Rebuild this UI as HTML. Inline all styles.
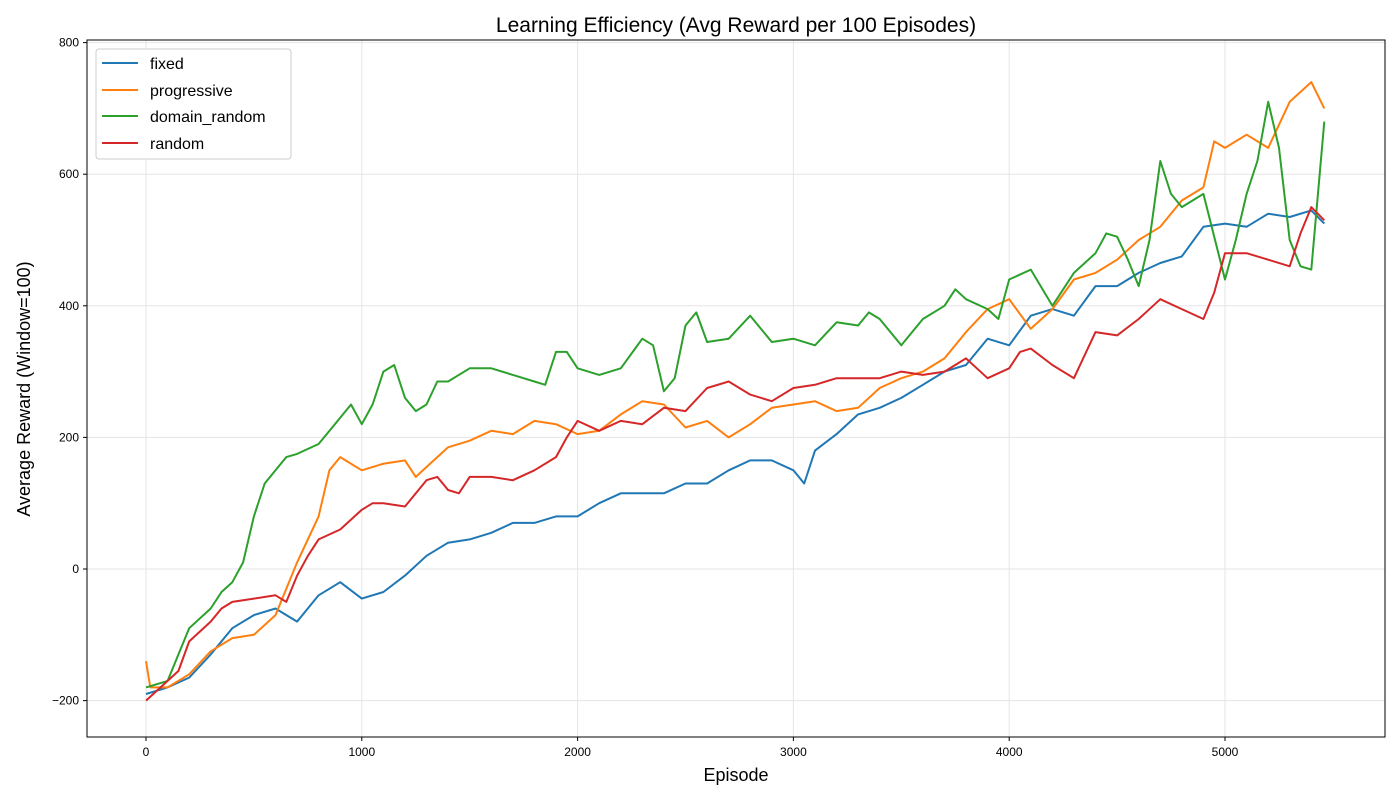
<!DOCTYPE html>
<html><head><meta charset="utf-8"><style>
body{margin:0;background:#fff;font-family:"Liberation Sans","DejaVu Sans",sans-serif}
svg{display:block}
</style></head><body>
<svg id="chart" width="1400" height="800" xmlns="http://www.w3.org/2000/svg">
<rect width="1400" height="800" fill="#fff"/>
<text x="736" y="32" font-size="21" text-anchor="middle" fill="#000">Learning Efficiency (Avg Reward per 100 Episodes)</text>
<text x="736" y="781" font-size="18" text-anchor="middle">Episode</text>
<text x="30" y="389" font-size="18" text-anchor="middle" transform="rotate(-90 30 389)">Average Reward (Window=100)</text>
<g id="grid"></g><g id="series"></g><g id="axes"></g>
<rect x="87" y="40" width="1298" height="697" fill="none" stroke="#000" stroke-width="1"/>
<g>
<rect x="96" y="49" width="195" height="110" rx="3" fill="#fff" stroke="#ccc"/>
<line x1="102" y1="63" x2="138" y2="63" stroke="#1f77b4" stroke-width="2"/><text x="150" y="69" font-size="16">fixed</text>
<line x1="102" y1="90" x2="138" y2="90" stroke="#ff7f0e" stroke-width="2"/><text x="150" y="96" font-size="16">progressive</text>
<line x1="102" y1="116" x2="138" y2="116" stroke="#2ca02c" stroke-width="2"/><text x="150" y="122" font-size="16">domain_random</text>
<line x1="102" y1="143" x2="138" y2="143" stroke="#d62728" stroke-width="2"/><text x="150" y="149" font-size="16">random</text>
</g>
</svg>
<script>
const xTicks=[0,1000,2000,3000,4000,5000];
const yTicks=[-200,0,200,400,600,800];
const fixedX=[0,100,200,300,400,500,600,700,800,900,1000,1100,1200,1300,1400,1500,1600,1700,1800,1900,2000,2100,2200,2300,2400,2500,2600,2700,2800,2900,3000,3050,3100,3200,3300,3400,3500,3600,3700,3800,3900,4000,4100,4200,4300,4400,4500,4600,4700,4800,4900,5000,5100,5200,5300,5400,5460];
const fixedY=[-190,-180,-165,-130,-90,-70,-60,-80,-40,-20,-45,-35,-10,20,40,45,55,70,70,80,80,100,115,115,115,130,130,150,165,165,150,130,180,205,235,245,260,280,300,310,350,340,385,395,385,430,430,450,465,475,520,525,520,540,535,545,525];
const progX=[0,20,100,200,300,400,500,600,650,700,800,850,900,1000,1100,1200,1250,1300,1400,1500,1600,1700,1800,1900,2000,2100,2200,2300,2400,2500,2600,2700,2800,2900,3000,3100,3200,3300,3400,3500,3600,3700,3800,3900,4000,4100,4200,4300,4400,4500,4600,4700,4800,4900,4950,5000,5100,5200,5300,5400,5460];
const progY=[-140,-180,-180,-160,-125,-105,-100,-70,-30,10,80,150,170,150,160,165,140,155,185,195,210,205,225,220,205,210,235,255,250,215,225,200,220,245,250,255,240,245,275,290,300,320,360,395,410,365,395,440,450,470,500,520,560,580,650,640,660,640,710,740,700];
const domX=[0,100,150,200,300,350,400,450,500,550,600,650,700,800,900,950,1000,1050,1100,1150,1200,1250,1300,1350,1400,1500,1600,1700,1800,1850,1900,1950,2000,2100,2200,2300,2350,2400,2450,2500,2550,2600,2700,2800,2900,3000,3100,3200,3300,3350,3400,3500,3600,3700,3750,3800,3900,3950,4000,4100,4200,4300,4400,4450,4500,4550,4600,4650,4700,4750,4800,4900,5000,5050,5100,5150,5200,5250,5300,5350,5400,5460];
const domY=[-180,-170,-130,-90,-60,-35,-20,10,80,130,150,170,175,190,230,250,220,250,300,310,260,240,250,285,285,305,305,295,285,280,330,330,305,295,305,350,340,270,290,370,390,345,350,385,345,350,340,375,370,390,380,340,380,400,425,410,395,380,440,455,400,450,480,510,505,470,430,500,620,570,550,570,440,500,570,620,710,640,500,460,455,680];
const randX=[0,100,150,200,300,350,400,500,600,650,700,750,800,900,1000,1050,1100,1200,1300,1350,1400,1450,1500,1600,1700,1800,1900,1950,2000,2100,2200,2300,2400,2500,2600,2700,2800,2900,3000,3100,3200,3300,3400,3500,3600,3700,3800,3850,3900,4000,4050,4100,4200,4300,4400,4500,4600,4700,4800,4900,4950,5000,5100,5200,5300,5350,5400,5460];
const randY=[-200,-170,-155,-110,-80,-60,-50,-45,-40,-50,-10,20,45,60,90,100,100,95,135,140,120,115,140,140,135,150,170,200,225,210,225,220,245,240,275,285,265,255,275,280,290,290,290,300,295,300,320,305,290,305,330,335,310,290,360,355,380,410,395,380,420,480,480,470,460,510,550,530];
const NS="http://www.w3.org/2000/svg";
const sx=v=>146+v*0.2158, sy=v=>569-v*0.658;
const grid=document.getElementById('grid'), axes=document.getElementById('axes'), ser=document.getElementById('series');
function mk(tag,attrs,parent){const e=document.createElementNS(NS,tag);for(const k in attrs)e.setAttribute(k,attrs[k]);parent.appendChild(e);return e;}
xTicks.forEach(t=>{const x=sx(t);
 const g=mk('line',{x1:x,x2:x,y1:40,y2:737,stroke:'#e5e5e5','stroke-width':1},grid);
 
 
 mk('line',{x1:x,x2:x,y1:737,y2:741,stroke:'#000'},axes);
 const l=mk('text',{x:x,y:756,'font-size':12,'text-anchor':'middle'},axes);l.textContent=t;
 
 });
yTicks.forEach(t=>{const y=sy(t);
 const g=mk('line',{x1:87,x2:1385,y1:y,y2:y,stroke:'#e5e5e5','stroke-width':1},grid);
 
 
 mk('line',{x1:83,x2:87,y1:y,y2:y,stroke:'#000'},axes);
 const l=mk('text',{x:79,y:y+4,'font-size':12,'text-anchor':'end'},axes);l.textContent=t<0?'\u2212'+(-t):t;
 
 });
function line(xs,ys,color,name){const d=xs.map((x,i)=>(i?'L':'M')+sx(x).toFixed(1)+','+sy(ys[i]).toFixed(1)).join('');
 const p=mk('path',{d:d,fill:'none',stroke:color,'stroke-width':2,'stroke-linejoin':'round'},ser);
 
 }
line(fixedX,fixedY,'#1f77b4','line-fixed');
line(progX,progY,'#ff7f0e','line-progressive');
line(domX,domY,'#2ca02c','line-domain-random');
line(randX,randY,'#d62728','line-random');
</script>
</body></html>
